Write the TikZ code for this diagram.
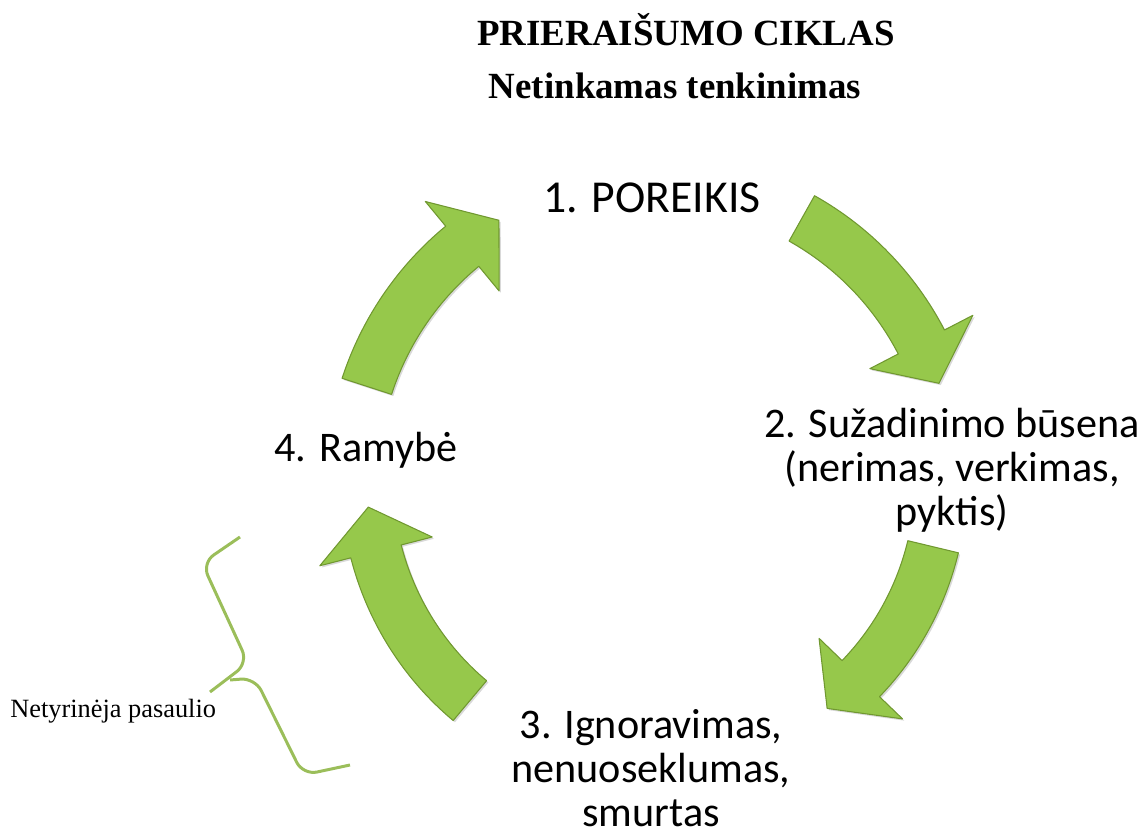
\documentclass[tikz,border=0pt]{standalone}
\usepackage{fontspec}
\setmainfont{Liberation Serif}
\newfontfamily\calibri{Carlito}
\usepackage{xcolor}
\usepackage{tikz}
\usetikzlibrary{shadows}
\definecolor{arrowgreen}{RGB}{150,200,75}
\definecolor{arrowedge}{RGB}{112,152,48}
\definecolor{bracegreen}{RGB}{155,190,90}
\tikzset{
heading/.style={
  font=\bfseries\fontsize{21}{24}\selectfont,
  anchor=base,
  inner sep=0pt
},
stage/.style={
  font=\calibri\fontsize{24}{25}\selectfont,
  align=center,
  anchor=base,
  inner sep=0pt
},
cyclearrow/.style={
  fill=arrowgreen,
  draw=arrowedge,
  line width=0.6pt,
  line join=round,
  drop shadow={shadow xshift=1pt,shadow yshift=-1pt,opacity=0.3}
},
bracket/.style={
  draw=bracegreen,
  line width=1.7pt,
  rounded corners=8pt
},
%note/.style={font=\fontsize{15}{18}\selectfont},
}

\begin{document}
\begin{tikzpicture}
\useasboundingbox (0,0) rectangle (22.84,16.68);
% the headings
\node[heading] (title) at (13.72,15.76) {PRIERAIŠUMO CIKLAS};
\node[heading] (subtitle) at (13.5,14.7) {Netinkamas tenkinimas};
% the stages (base = last line)
\node[stage,font=\calibri\fontsize{26}{25}\selectfont] (need) at (13.04,12.42) {1. POREIKIS};
\node[stage] (arousal) at (19.04,6.18) {2. Sužadinimo būsena\\(nerimas, verkimas,\\pyktis)};
\node[stage] (response) at (13.02,0.16) {3. Ignoravimas,\\nenuoseklumas,\\smurtas};
\node[stage] (calm) at (7.32,7.44) {4. Ramybė};
% the arrows
\begin{scope}[shift={(13.1,7.08)}]
\foreach \tail/\tip/\rad in {162/121/6.06, 60.7/18.8/6.0, -13.5/-53/5.72, -130/-174.6/5.76}
{
  \pgfmathsetmacro{\neck}{\tip+0.9/\rad*57.3}
  \pgfmathsetmacro{\ro}{\rad+0.52}
  \pgfmathsetmacro{\ri}{\rad-0.52}
  \pgfmathsetmacro{\bo}{\rad+1.16}
  \pgfmathsetmacro{\bi}{\rad-1.16}
  \path[cyclearrow]
    (\tail:\ro) arc[start angle=\tail, end angle=\neck, radius=\ro]
    -- (\neck:\bo) -- (\tip:\rad) -- (\neck:\bi) -- (\neck:\ri)
    arc[start angle=\neck, end angle=\tail, radius=\ri] -- cycle;
}
\end{scope}
% the brace
\node[anchor=base west,inner sep=0pt,font=\fontsize{15}{18}\selectfont] (note) at (0.2,2.34) {Netyrinėja pasaulio};
\draw[bracket] (4.8,5.94) -- (4.04,5.42) -- (4.96,3.42) -- (4.2,2.84);
\draw[bracket] (4.6,3.08) -- (5.1,3.12) -- (6.06,1.18) -- (7.0,1.38);
\end{tikzpicture}
\end{document}
